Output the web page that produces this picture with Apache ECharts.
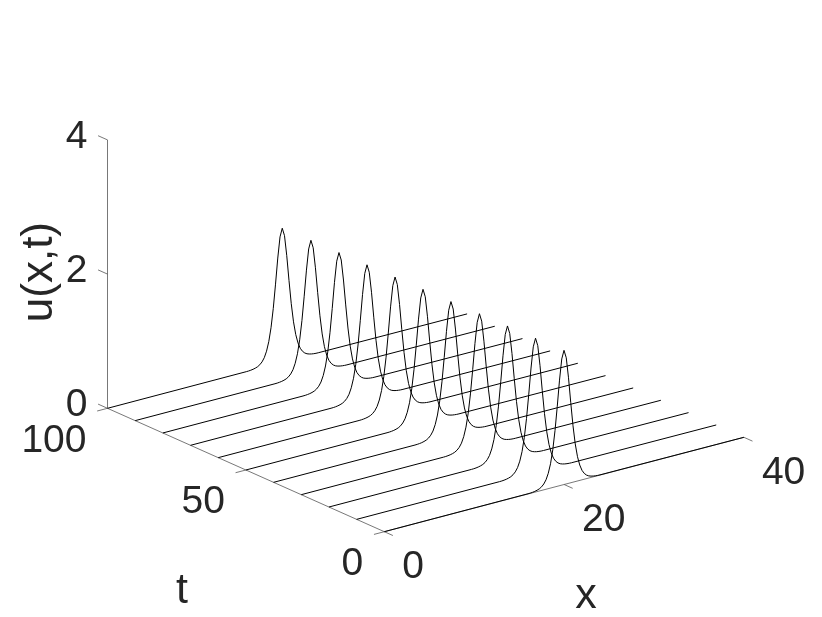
<!DOCTYPE html>
<html>
<head>
<meta charset="utf-8">
<style>
  html, body { margin: 0; padding: 0; background: #fff; }
  #main { width: 822px; height: 617px; }
</style>
<script src="https://cdn.jsdelivr.net/npm/echarts@6/dist/echarts.min.js"></script>
</head>
<body>
<div id="main"></div>
<script>
var tValues = [0, 10, 20, 30, 40, 50, 60, 70, 80, 90, 100];
// x position of the crest on each trace
var crestX = [19.99, 19.9, 19.86, 19.82, 19.73, 19.7, 19.67, 19.63, 19.59, 19.55, 19.44];
// pulse shape: distance from crest and height
var pulseDx = [-4, -3.75, -3.5, -3.25, -3, -2.75, -2.5, -2.25, -2, -1.75, -1.5, -1.25, -1, -0.75, -0.5, -0.25, 0,
  0.25, 0.5, 0.75, 1, 1.25, 1.5, 1.75, 2, 2.25, 2.5, 2.75, 3, 3.25, 3.5, 3.75, 4];
var pulseU = [0.003, 0.004, 0.007, 0.012, 0.02, 0.032, 0.053, 0.087, 0.141, 0.229, 0.362, 0.561, 0.84, 1.193, 1.573, 1.88, 2,
  1.88, 1.573, 1.193, 0.84, 0.561, 0.362, 0.229, 0.141, 0.087, 0.053, 0.032, 0.02, 0.012, 0.007, 0.004, 0.003];
var xRange = [0, 40];
var tRange = [0, 100];
var uRange = [0, 4];
var xTicks = [0, 20, 40];
var tTicks = [0, 50, 100];
var uTicks = [0, 2, 4];

// oblique view of the box, in page pixels
function project(x, t, u) {
  return [
    384.3 + 8.99 * x - 2.768 * t,
    531.7 - 2.36 * x - 1.234 * t - 67.1 * u
  ];
}

function traceData(i) {
  var pts = [project(xRange[0], tValues[i], 0)];
  pulseDx.forEach(function (dx, j) {
    pts.push(project(crestX[i] + dx, tValues[i], pulseU[j]));
  });
  pts.push(project(xRange[1], tValues[i], 0));
  return pts;
}

function axisLine(points) {
  return {
    type: 'line',
    data: points,
    symbol: 'none',
    silent: true,
    lineStyle: { color: '#555', width: 0.8 }
  };
}

function textSeries(name, items, align, offset, rotate, size) {
  return {
    name: name,
    type: 'scatter',
    symbolSize: 0,
    silent: true,
    itemStyle: { opacity: 1 },
    data: items.map(function (item) {
      return { value: item.at, label: { formatter: item.text } };
    }),
    label: {
      show: true,
      position: 'inside',
      align: align,
      verticalAlign: 'middle',
      offset: offset,
      rotate: rotate || 0,
      color: '#262626',
      fontFamily: 'Liberation Sans',
      fontSize: size || 39
    }
  };
}

var series = [];

// box axes
series.push(axisLine([project(0, 0, 0), project(40, 0, 0)]));
series.push(axisLine([project(0, 0, 0), project(0, 100, 0)]));
series.push(axisLine([project(0, 100, 0), project(0, 100, 4)]));

// tick marks
xTicks.forEach(function (v) {
  series.push(axisLine([project(v, tRange[0], 0), project(v, tRange[0] - 3.1, 0)]));
});
tTicks.forEach(function (v) {
  series.push(axisLine([project(xRange[0], v, 0), project(xRange[0] - 1.15, v, 0)]));
});
uTicks.forEach(function (v) {
  series.push(axisLine([project(xRange[0], tRange[1], v), project(xRange[0], tRange[1] + 3.4, v)]));
});

// traces
tValues.forEach(function (t, i) {
  series.push({
    name: 't=' + t,
    type: 'line',
    data: traceData(i),
    symbol: 'none',
    silent: true,
    lineStyle: { color: '#000', width: 1 }
  });
});

// tick labels and axis names
series.push(textSeries('xTicks', xTicks.map(function (v) {
  return { at: project(v, tRange[0], 0), text: String(v) };
}), 'left', [18, 36]));
series.push(textSeries('tTicks', tTicks.map(function (v) {
  return { at: project(xRange[0], v, 0), text: String(v) };
}), 'right', [-21, 32.5]));
series.push(textSeries('uTicks', uTicks.map(function (v) {
  return { at: project(xRange[0], tRange[1], v), text: String(v) };
}), 'right', [-20, -3]));
series.push(textSeries('xName', [{ at: project(20, 0, 0), text: 'x' }], 'center', [22, 112], 0, 43));
series.push(textSeries('tName', [{ at: project(0, 50, 0), text: 't' }], 'center', [-64, 121], 0, 43));
// offset of a rotated label follows the rotation
series.push(textSeries('uName', [{ at: project(0, 100, 2), text: 'u(x,t)' }], 'center', [2, -68], 90, 44));

var chart = echarts.init(document.getElementById('main'), null, { renderer: 'canvas' });
chart.setOption({
  animation: false,
  backgroundColor: '#fff',
  grid: { left: 0, right: 0, top: 0, bottom: 0 },
  xAxis: { type: 'value', min: 0, max: 822, show: false },
  yAxis: { type: 'value', min: 0, max: 617, inverse: true, show: false },
  series: series
});
</script>
</body>
</html>
